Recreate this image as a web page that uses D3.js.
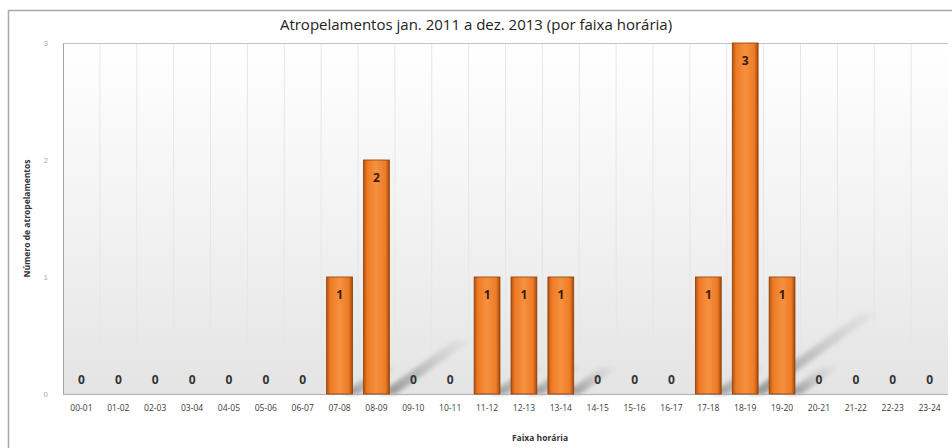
<!DOCTYPE html>
<html>
<head>
<meta charset="utf-8">
<script src="https://cdn.jsdelivr.net/npm/d3@7"></script>
<style>
  body { margin: 0; background: #fff; }
  svg { display: block; font-family: "Open Sans", "DejaVu Sans", sans-serif; }
</style>
</head>
<body>
<svg id="chart" width="952" height="448"></svg>
<script>
// hour bands and counts
let faixas = ['00-01','01-02','02-03','03-04','04-05','05-06','06-07','07-08','08-09','09-10','10-11','11-12',
              '12-13','13-14','14-15','15-16','16-17','17-18','18-19','19-20','20-21','21-22','22-23','23-24'];
let atropelamentos = [0,0,0,0,0,0,0,1,2,0,0,1,1,1,0,0,0,1,3,1,0,0,0,0];
let yTicks = [0, 1, 2, 3];

let title = 'Atropelamentos jan. 2011 a dez. 2013 (por faixa horária)';
let xTitle = 'Faixa horária';
let yTitle = 'Número de atropelamentos';

let svg = d3.select('#chart');
let width = 952, height = 448;
let margin = {top: 43, right: 4, bottom: 54, left: 63};
let plotW = width - margin.left - margin.right;
let plotH = height - margin.top - margin.bottom;

let defs = svg.append('defs');

// background of plot: white to light grey
let bg = defs.append('linearGradient').attr('id', 'bgGrad').attr('x1', 0).attr('y1', 0).attr('x2', 0).attr('y2', 1);
bg.append('stop').attr('offset', '0%').attr('stop-color', '#ffffff');
bg.append('stop').attr('offset', '55%').attr('stop-color', '#f1f1f1');
bg.append('stop').attr('offset', '100%').attr('stop-color', '#e4e4e4');

// bar gradient (horizontal, darker at edges)
let barG = defs.append('linearGradient').attr('id', 'barGrad').attr('x1', 0).attr('y1', 0).attr('x2', 1).attr('y2', 0);
barG.append('stop').attr('offset', '0%').attr('stop-color', '#b9520c');
barG.append('stop').attr('offset', '15%').attr('stop-color', '#ee7b25');
barG.append('stop').attr('offset', '50%').attr('stop-color', '#f5913f');
barG.append('stop').attr('offset', '85%').attr('stop-color', '#ee7b25');
barG.append('stop').attr('offset', '100%').attr('stop-color', '#a9480a');

// shadow gradient
let shG = defs.append('linearGradient').attr('id', 'shGrad').attr('x1', 0).attr('y1', 1).attr('x2', 1).attr('y2', 0);
shG.append('stop').attr('offset', '0%').attr('stop-color', '#7a7a7a').attr('stop-opacity', 0.8);
shG.append('stop').attr('offset', '100%').attr('stop-color', '#bdbdbd').attr('stop-opacity', 0.15);
defs.append('filter').attr('id', 'blur').append('feGaussianBlur').attr('stdDeviation', 2.2);

// outer frame
svg.append('rect').attr('x', 8.5).attr('y', 10.5).attr('width', width - 6).attr('height', height - 4)
  .attr('fill', '#fff').attr('stroke', '#a8a8a8').attr('stroke-width', 1.5);

let g = svg.append('g').attr('transform', `translate(${margin.left},${margin.top})`);

let x = d3.scaleBand().domain(faixas).range([0, plotW]).paddingInner(0.3).paddingOuter(0.15);
let y = d3.scaleLinear().domain([0, 3]).range([plotH, 0]);

g.append('rect').attr('width', plotW).attr('height', plotH).attr('fill', 'url(#bgGrad)');

// vertical gridlines at band edges
g.append('g').selectAll('line').data(faixas.slice(1)).join('line')
  .attr('x1', d => x(d) - x.step() * x.paddingInner() / 2)
  .attr('x2', d => x(d) - x.step() * x.paddingInner() / 2)
  .attr('y1', 0).attr('y2', plotH)
  .attr('stroke', '#e6e6e6').attr('stroke-width', 1);

// cast shadows
let data = faixas.map((f, i) => ({faixa: f, v: atropelamentos[i]}));
g.append('g').attr('filter', 'url(#blur)').selectAll('path').data(data.filter(d => d.v > 0)).join('path')
  .attr('d', d => {
    let x0 = x(d.faixa) + x.bandwidth() * 0.6, h = (plotH - y(d.v)) * 0.23;
    let x1 = x0 + h * 1.4, w = x.bandwidth() * 0.65;
    return `M${x0},${plotH}L${x0 + w},${plotH}L${x1 + w},${plotH - h}L${x1},${plotH - h}Z`;
  })
  .attr('fill', 'url(#shGrad)');

// plot borders
g.append('line').attr('x1', 0).attr('x2', plotW).attr('y1', 0.5).attr('y2', 0.5).attr('stroke', '#c4c4c4');
g.append('line').attr('x1', 0.5).attr('x2', 0.5).attr('y1', 0).attr('y2', plotH).attr('stroke', '#a6a6a6');
g.append('line').attr('x1', 0).attr('x2', plotW).attr('y1', plotH + 0.5).attr('y2', plotH + 0.5).attr('stroke', '#b0b0b0');

// bars
g.append('g').selectAll('rect').data(data.filter(d => d.v > 0)).join('rect')
  .attr('x', d => x(d.faixa))
  .attr('y', d => y(d.v))
  .attr('width', x.bandwidth())
  .attr('height', d => plotH - y(d.v))
  .attr('fill', 'url(#barGrad)')
  .attr('stroke', '#8a3c08').attr('stroke-width', 0.8);

// value labels
g.append('g').selectAll('text').data(data).join('text')
  .attr('x', d => x(d.faixa) + x.bandwidth() / 2)
  .attr('y', d => d.v > 0 ? y(d.v) + 22 : plotH - 10)
  .attr('text-anchor', 'middle')
  .attr('font-size', 12).attr('font-weight', 'bold')
  .attr('fill', d => d.v > 0 ? '#3a1a05' : '#333')
  .text(d => d.v);

// axes
let xAxis = g.append('g').attr('transform', `translate(0,${plotH})`)
  .call(d3.axisBottom(x).tickSize(0).tickPadding(11));
xAxis.select('.domain').remove();
xAxis.selectAll('text').attr('font-size', 8.5).attr('fill', '#3a3a3a').attr('font-family', '"Open Sans", sans-serif');

let yAxis = g.append('g').call(d3.axisLeft(y).tickValues(yTicks).tickFormat(d3.format('d')).tickSize(0).tickPadding(15));
yAxis.select('.domain').remove();
yAxis.selectAll('text').attr('font-size', 8).attr('fill', '#aaa');

// titles
svg.append('text').attr('x', 476).attr('y', 30).attr('text-anchor', 'middle')
  .attr('font-size', 15).attr('fill', '#222').text(title);
svg.append('text').attr('x', 540).attr('y', 441).attr('text-anchor', 'middle')
  .attr('font-size', 8.5).attr('font-weight', 'bold').attr('fill', '#333').text(xTitle);
svg.append('text').attr('transform', `translate(30,${margin.top + plotH / 2}) rotate(-90)`).attr('text-anchor', 'middle')
  .attr('font-size', 8.5).attr('font-weight', 'bold').attr('fill', '#333').text(yTitle);
</script>
</body>
</html>
